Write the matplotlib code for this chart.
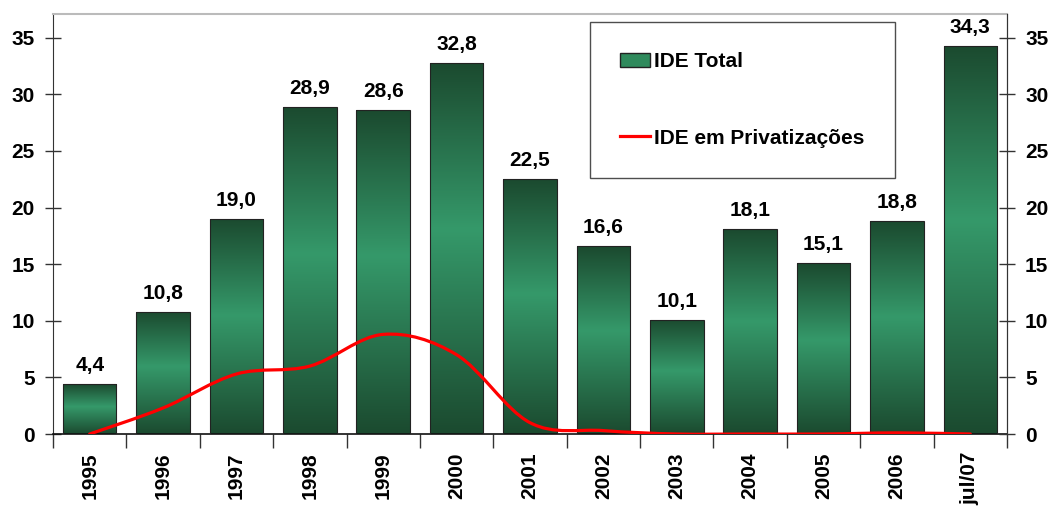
import numpy as np
import matplotlib
matplotlib.use("Agg")
import matplotlib.pyplot as plt
from matplotlib.path import Path
from matplotlib.patches import PathPatch, Patch
from matplotlib.lines import Line2D
from matplotlib.colors import LinearSegmentedColormap

plt.rcParams['font.family'] = ['Liberation Sans', 'DejaVu Sans']

categories = ["1995", "1996", "1997", "1998", "1999", "2000", "2001",
              "2002", "2003", "2004", "2005", "2006", "jul/07"]
ide_total = [4.4, 10.8, 19.0, 28.9, 28.6, 32.8, 22.5, 16.6, 10.1, 18.1, 15.1, 18.8, 34.3]
ide_privat = [0.0, 2.3, 5.3, 6.0, 8.8, 7.0, 1.0, 0.3, 0.0, 0.0, 0.0, 0.1, 0.0]

DARK = "#1b4a2f"
LIGHT = "#35996a"
cmap = LinearSegmentedColormap.from_list("g", [(0, DARK), (0.45, LIGHT), (1, DARK)])

FS = 15

fig = plt.figure(figsize=(10.5, 5.08), dpi=100)
ax = fig.add_axes([53/1050, (508-434)/508, (1007-53)/1050, (434-14)/508])
n = len(categories)
x = np.arange(n)
w = 0.73

ax.set_xlim(-0.5, n - 0.5)
ax.set_ylim(0, 37.1)

grad = np.linspace(0, 1, 256).reshape(-1, 1)
bars = ax.bar(x, ide_total, width=w, color="none", edgecolor="#222222", linewidth=0.8, zorder=3)
for b in bars:
    x0, y0 = b.get_x(), b.get_y()
    im = ax.imshow(grad, cmap=cmap, aspect="auto", origin="upper",
                   extent=[x0, x0 + b.get_width(), y0, y0 + b.get_height()], zorder=2)
    im.set_clip_path(b)

for xi, v in zip(x, ide_total):
    ax.annotate(f"{v:.1f}".replace(".", ","), (xi, v), xytext=(0, 6.5), textcoords="offset points",
                ha="center", va="bottom", fontsize=FS, fontweight="bold", color="black", zorder=5)

# smoothed line (Catmull-Rom style bezier through data points)
px = x.astype(float)
py = np.array(ide_privat, dtype=float)
verts = [(px[0], py[0])]
codes = [Path.MOVETO]
for i in range(n - 1):
    p0 = np.array([px[max(i-1, 0)], py[max(i-1, 0)]])
    p1 = np.array([px[i], py[i]])
    p2 = np.array([px[i+1], py[i+1]])
    p3 = np.array([px[min(i+2, n-1)], py[min(i+2, n-1)]])
    c1 = p1 + (p2 - p0) / 6.0
    c2 = p2 - (p3 - p1) / 6.0
    verts += [tuple(c1), tuple(c2), tuple(p2)]
    codes += [Path.CURVE4] * 3
ax.add_patch(PathPatch(Path(verts, codes), facecolor="none", edgecolor="#ff0000",
                       linewidth=2.3, zorder=4, capstyle="round"))

# axes styling
for s in ["left", "right"]:
    ax.spines[s].set_color("#333333")
ax.spines["bottom"].set_color("#111111")
ax.spines["bottom"].set_linewidth(1.2)
ax.spines["top"].set_color("#bbbbbb")
ax.spines["top"].set_linewidth(1.5)

yt = [0, 5, 10, 15, 20, 25, 30, 35]
ax.set_yticks(yt)
ax.set_yticklabels([str(t) for t in yt], fontsize=FS, fontweight="bold")
ax.tick_params(axis="y", direction="inout", length=12, width=1, color="#333333", pad=7)

ax.set_xticks(x)
ax.set_xticklabels(categories, rotation=90, fontsize=FS, fontweight="bold", va="top")
ax.tick_params(axis="x", which="major", length=0, pad=13)
ax.set_xticks(np.arange(-0.5, n, 1), minor=True)
ax.tick_params(axis="x", which="minor", direction="out", length=10, width=1, color="#333333")

ax2 = ax.twinx()
ax2.set_ylim(ax.get_ylim())
ax2.set_yticks(yt)
ax2.set_yticklabels([str(t) for t in yt], fontsize=FS, fontweight="bold")
ax2.tick_params(axis="y", direction="inout", length=12, width=1, color="#333333", pad=7)
for s in ["left", "top", "bottom"]:
    ax2.spines[s].set_visible(False)
ax2.spines["right"].set_color("#333333")

handles = [Patch(facecolor="#2f8a5c", edgecolor="#222222", linewidth=1.0, label="IDE Total"),
           Line2D([0], [0], color="#ff0000", linewidth=2.3, label="IDE em Privatizações")]
leg = ax2.legend(handles=handles, loc="upper left",
                 bbox_to_anchor=((590-53)/954, (434-22)/420, 305/954, 0.0),
                 mode="expand", frameon=True, fancybox=False, borderpad=1.45,
                 labelspacing=2.75, handlelength=1.45, handleheight=0.65, handletextpad=0.15,
                 prop={"size": FS, "weight": "bold"}, borderaxespad=0)
leg.get_frame().set_edgecolor("#222222")
leg.get_frame().set_linewidth(1.0)

fig.savefig("out.png", dpi=100)
